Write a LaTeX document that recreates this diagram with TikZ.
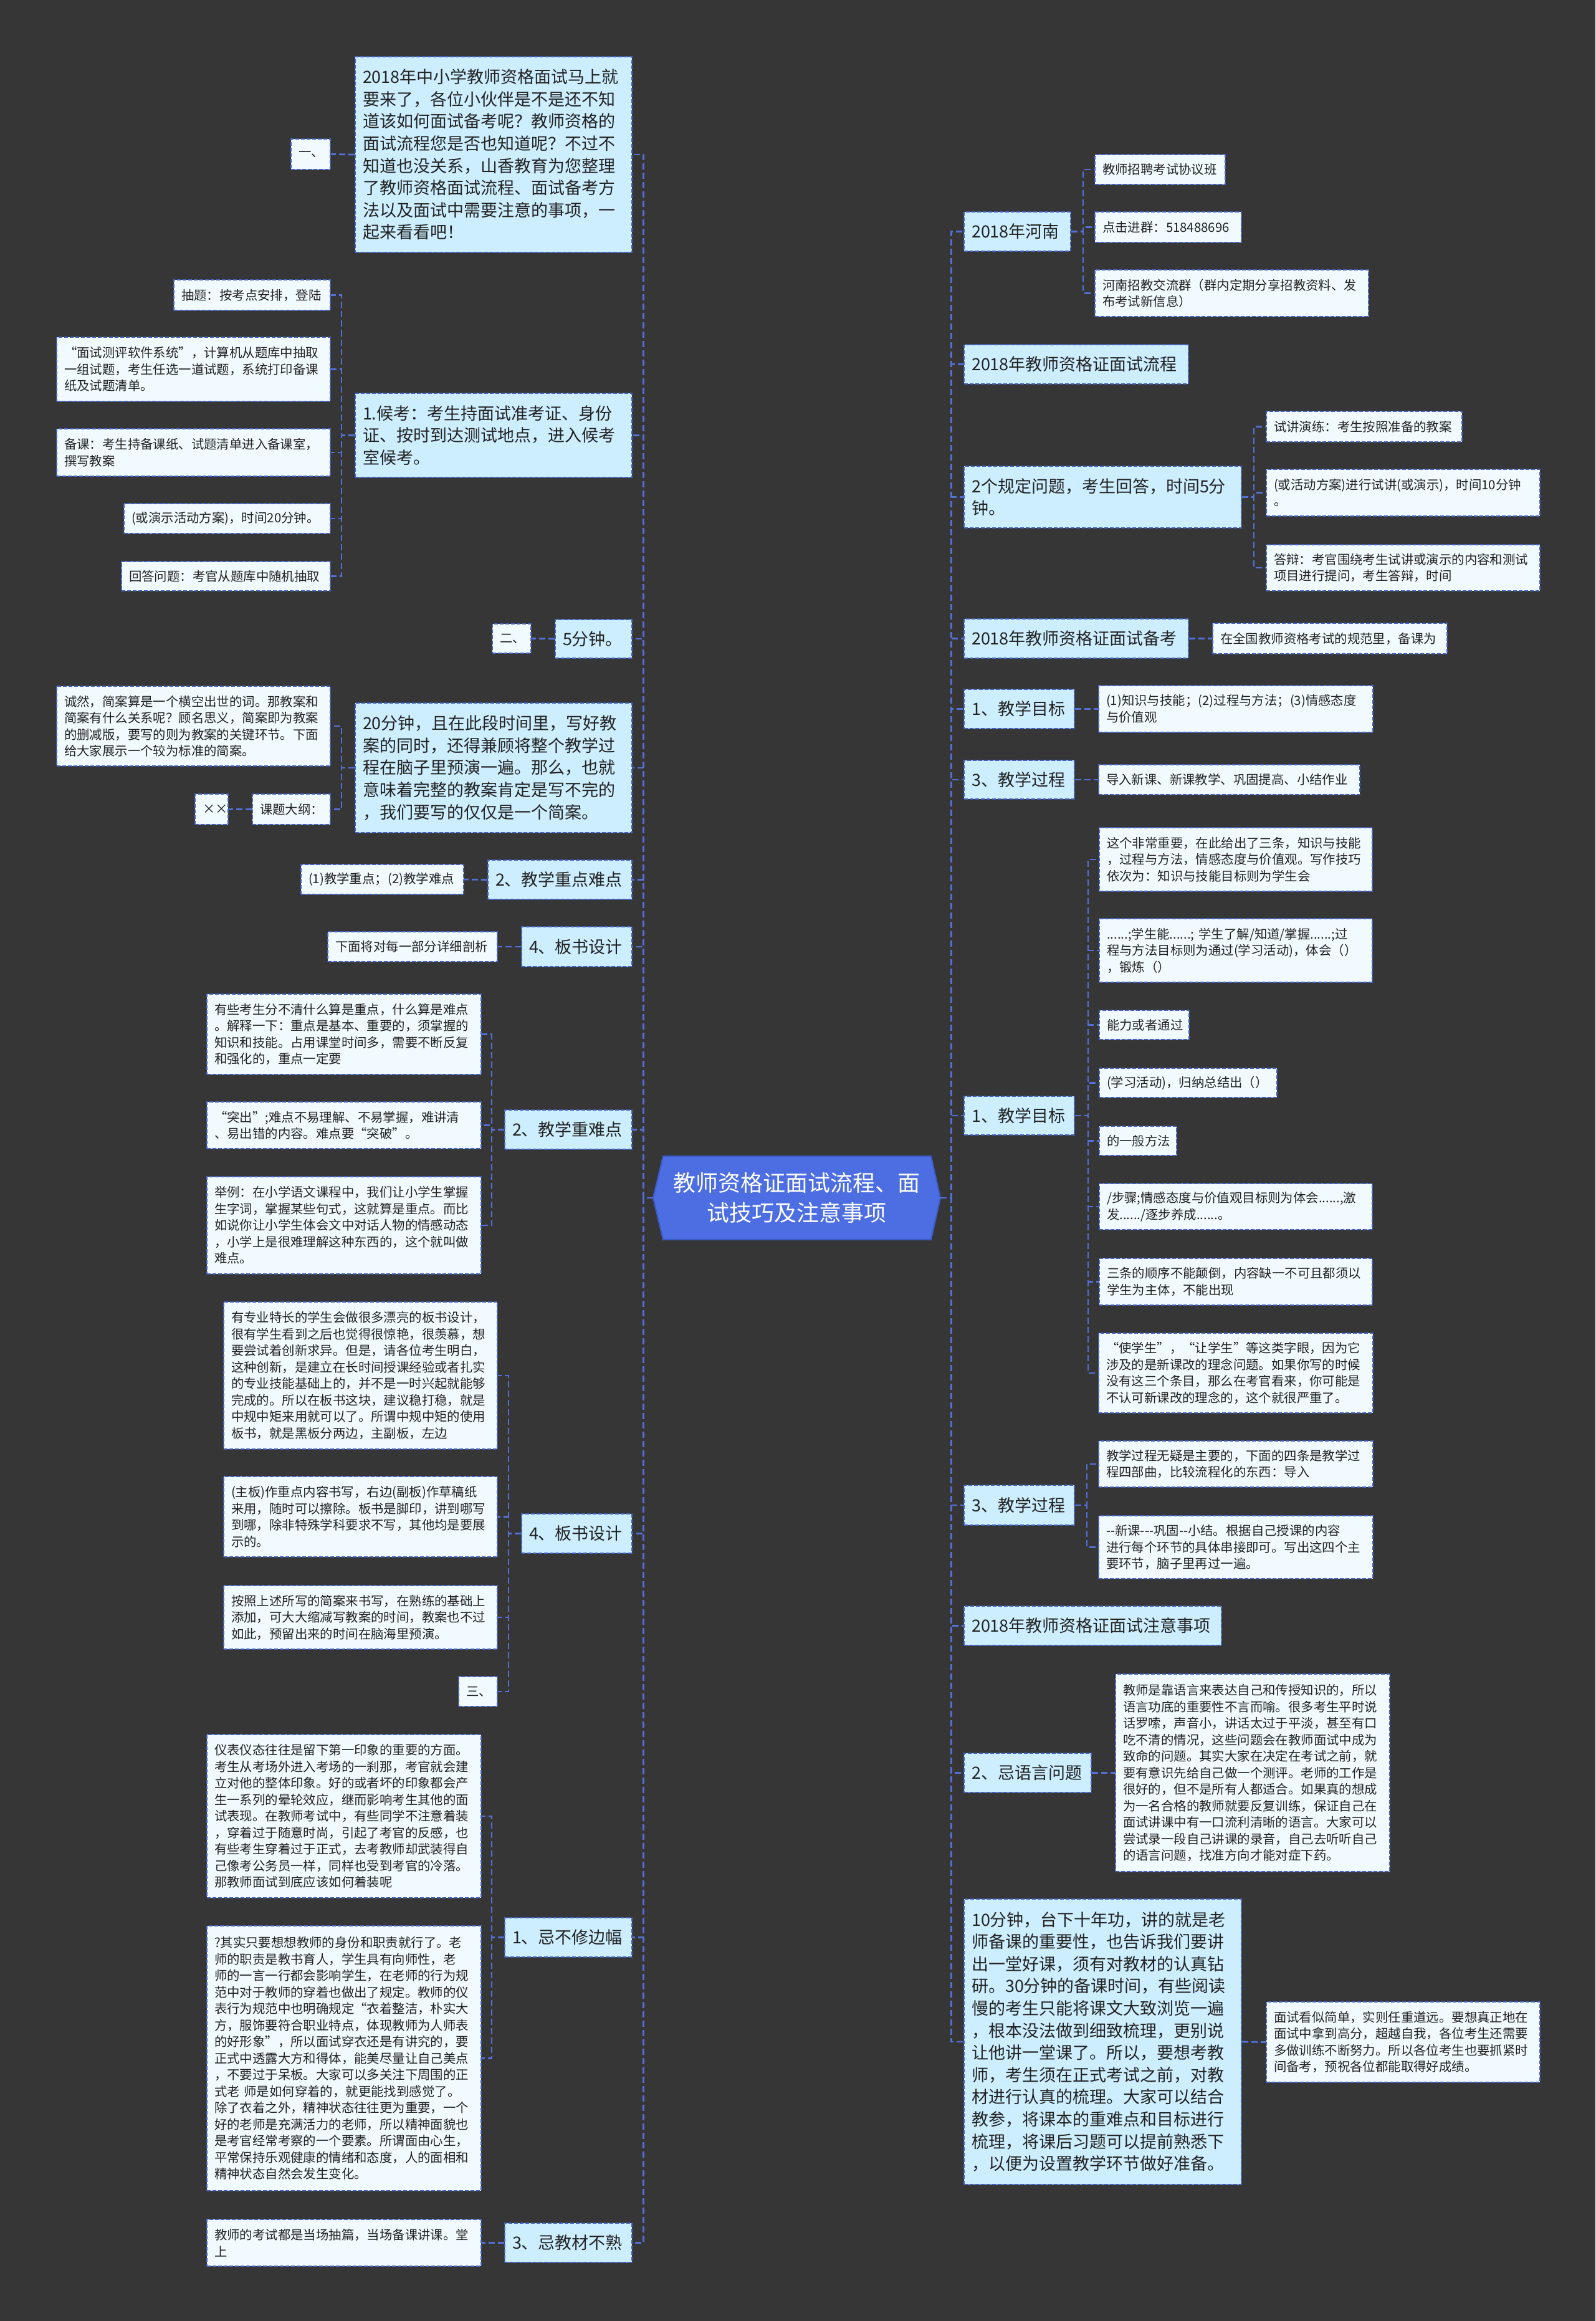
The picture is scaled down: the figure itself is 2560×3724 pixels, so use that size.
\documentclass[tikz,border=0pt]{standalone}
\usepackage{fontspec}
\setmainfont{Noto Sans CJK SC}
\definecolor{bgc}{RGB}{54,54,54}
\definecolor{lone}{RGB}{204,238,254}
\definecolor{ltwo}{RGB}{240,250,255}
\definecolor{bordc}{RGB}{68,98,196}
\definecolor{connc}{RGB}{84,112,214}
\definecolor{cfill}{RGB}{76,110,226}
\definecolor{cbord}{RGB}{60,90,200}
\definecolor{txtc}{RGB}{34,34,34}
\newcommand\hy{\mbox{-}}
\newcommand\mmbox[7]{%
  \pgfmathsetlengthmacro\mmw{#5*0.5pt}%
  \pgfmathsetlengthmacro\mmh{#6*0.5pt}%
  \pgfmathsetlengthmacro\mmt{#5*0.5pt-12pt}%
  \node[#1, anchor=north west, minimum width=\mmw, minimum height=\mmh, text width=\mmt] (#2) at (#3,#4) {#7};}
\tikzset{
  boxbase/.style={draw=bordc, line width=1pt, dash pattern=on 3pt off 1.5pt, text=txtc, align=left, inner xsep=5.5pt, inner ysep=1pt},
  lvone/.style={boxbase, fill=lone, font=\fontsize{13.5pt}{17.8pt}\selectfont},
  lvtwo/.style={boxbase, fill=ltwo, font=\fontsize{10.2pt}{13.25pt}\selectfont},
  conn/.style={draw=connc, line width=1.4pt, dash pattern=on 5pt off 2.5pt},
  centertext/.style={text=white, align=center, font=\fontsize{18pt}{24pt}\selectfont, text width=210pt, minimum width=230.5pt, minimum height=67pt, inner sep=0pt},
}
\begin{document}
\begin{tikzpicture}[x=0.5pt, y=-0.5pt]
\useasboundingbox (0,0) rectangle (2560,3724);
\fill[bgc] (0,0) rectangle (2560,3724);
% central topic
\filldraw[fill=cfill, draw=cbord, line width=1pt] (1064,1855) -- (1494,1855) -- (1509,1922) -- (1494,1989) -- (1064,1989) -- (1048,1922) -- cycle;
\node[centertext] (c) at (1278.5,1922) {教师资格证面试流程、面\\试技巧及注意事项};

% ---------------- LEFT ----------------
\mmbox{lvone}{L1}{569}{90}{444}{314}{2018年中小学教师资格面试马上就\\要来了，各位小伙伴是不是还不知\\道该如何面试备考呢？教师资格的\\面试流程您是否也知道呢？不过不\\知道也没关系，山香教育为您整理\\了教师资格面试流程、面试备考方\\法以及面试中需要注意的事项，一\\起来看看吧！}
\mmbox{lvtwo}{L1a}{466}{222}{63}{49}{一、}

\mmbox{lvone}{L2}{569}{630}{444}{135}{1.候考：考生持面试准考证、身份\\证、按时到达测试地点，进入候考\\室候考。}
\mmbox{lvtwo}{L2a}{278}{448}{251}{49}{抽题：按考点安排，登陆}
\mmbox{lvtwo}{L2b}{90}{540}{439}{103}{“面试测评软件系统”，计算机从题库中抽取\\一组试题，考生任选一道试题，系统打印备课\\纸及试题清单。}
\mmbox{lvtwo}{L2c}{90}{687}{439}{76}{备课：考生持备课纸、试题清单进入备课室，\\撰写教案}
\mmbox{lvtwo}{L2d}{198}{807}{331}{48}{(或演示活动方案)，时间20分钟。}
\mmbox{lvtwo}{L2e}{194}{900}{335}{47}{回答问题：考官从题库中随机抽取}

\mmbox{lvone}{L3}{890}{993}{123}{62}{5分钟。}
\mmbox{lvtwo}{L3a}{789}{1000}{62}{47}{二、}

\mmbox{lvone}{L4}{569}{1127}{444}{208}{20分钟，且在此段时间里，写好教\\案的同时，还得兼顾将整个教学过\\程在脑子里预演一遍。那么，也就\\意味着完整的教案肯定是写不完的\\，我们要写的仅仅是一个简案。}
\mmbox{lvtwo}{L4a}{90}{1100}{439}{128}{诚然，简案算是一个横空出世的词。那教案和\\简案有什么关系呢？顾名思义，简案即为教案\\的删减版，要写的则为教案的关键环节。下面\\给大家展示一个较为标准的简案。}
\mmbox{lvtwo}{L4b}{404}{1273}{125}{49}{课题大纲：}
\mmbox{lvtwo}{L4c}{312}{1273}{53}{49}{××}

\mmbox{lvone}{L5}{782}{1379}{231}{63}{2、教学重点难点}
\mmbox{lvtwo}{L5a}{482}{1386}{261}{48}{(1)教学重点；(2)教学难点}

\mmbox{lvone}{L6}{836}{1486}{177}{64}{4、板书设计}
\mmbox{lvtwo}{L6a}{525}{1494}{272}{48}{下面将对每一部分详细剖析}

\mmbox{lvone}{L7}{809}{1780}{204}{63}{2、教学重难点}
\mmbox{lvtwo}{L7a}{331}{1594}{440}{129}{有些考生分不清什么算是重点，什么算是难点\\。解释一下：重点是基本、重要的，须掌握的\\知识和技能。占用课堂时间多，需要不断反复\\和强化的，重点一定要}
\mmbox{lvtwo}{L7b}{331}{1767}{440}{75}{“突出”;难点不易理解、不易掌握，难讲清\\、易出错的内容。难点要“突破”。}
\mmbox{lvtwo}{L7c}{331}{1887}{440}{156}{举例：在小学语文课程中，我们让小学生掌握\\生字词，掌握某些句式，这就算是重点。而比\\如说你让小学生体会文中对话人物的情感动态\\，小学上是很难理解这种东西的，这个就叫做\\难点。}

\mmbox{lvone}{L8}{836}{2428}{177}{63}{4、板书设计}
\mmbox{lvtwo}{L8a}{358}{2088}{439}{236}{有专业特长的学生会做很多漂亮的板书设计，\\很有学生看到之后也觉得很惊艳，很羡慕，想\\要尝试着创新求异。但是，请各位考生明白，\\这种创新，是建立在长时间授课经验或者扎实\\的专业技能基础上的，并不是一时兴起就能够\\完成的。所以在板书这块，建议稳打稳，就是\\中规中矩来用就可以了。所谓中规中矩的使用\\板书，就是黑板分两边，主副板，左边}
\mmbox{lvtwo}{L8b}{358}{2368}{439}{129}{(主板)作重点内容书写，右边(副板)作草稿纸\\来用，随时可以擦除。板书是脚印，讲到哪写\\到哪，除非特殊学科要求不写，其他均是要展\\示的。}
\mmbox{lvtwo}{L8c}{358}{2543}{439}{102}{按照上述所写的简案来书写，在熟练的基础上\\添加，可大大缩减写教案的时间，教案也不过\\如此，预留出来的时间在脑海里预演。}
\mmbox{lvtwo}{L8d}{735}{2689}{62}{48}{三、}

\mmbox{lvone}{L9}{809}{3076}{204}{63}{1、忌不修边幅}
\mmbox{lvtwo}{L9a}{331}{2782}{440}{262}{仪表仪态往往是留下第一印象的重要的方面。\\考生从考场外进入考场的一刹那，考官就会建\\立对他的整体印象。好的或者坏的印象都会产\\生一系列的晕轮效应，继而影响考生其他的面\\试表现。在教师考试中，有些同学不注意着装\\，穿着过于随意时尚，引起了考官的反感，也\\有些考生穿着过于正式，去考教师却武装得自\\己像考公务员一样，同样也受到考官的冷落。\\那教师面试到底应该如何着装呢}
\mmbox{lvtwo}{L9b}{331}{3089}{440}{425}{?其实只要想想教师的身份和职责就行了。老\\师的职责是教书育人，学生具有向师性，老\\师的一言一行都会影响学生，在老师的行为规\\范中对于教师的穿着也做出了规定。教师的仪\\表行为规范中也明确规定“衣着整洁，朴实大\\方，服饰要符合职业特点，体现教师为人师表\\的好形象”，所以面试穿衣还是有讲究的，要\\正式中透露大方和得体，能美尽量让自己美点\\，不要过于呆板。大家可以多关注下周围的正\\式老 师是如何穿着的，就更能找到感觉了。\\除了衣着之外，精神状态往往更为重要，一个\\好的老师是充满活力的老师，所以精神面貌也\\是考官经常考察的一个要素。所谓面由心生，\\平常保持乐观健康的情绪和态度，人的面相和\\精神状态自然会发生变化。}

\mmbox{lvone}{L10}{809}{3566}{204}{63}{3、忌教材不熟}
\mmbox{lvtwo}{L10a}{331}{3560}{440}{75}{教师的考试都是当场抽篇，当场备课讲课。堂\\上}

% ---------------- RIGHT ----------------
\mmbox{lvone}{R1}{1546}{339}{171}{63}{2018年河南}
\mmbox{lvtwo}{R1a}{1756}{247}{209}{48}{教师招聘考试协议班}
\mmbox{lvtwo}{R1b}{1756}{339}{235}{49}{点击进群：518488696}
\mmbox{lvtwo}{R1c}{1756}{432}{439}{75}{河南招教交流群（群内定期分享招教资料、发\\布考试新信息）}

\mmbox{lvone}{R2}{1546}{552}{360}{63}{2018年教师资格证面试流程}

\mmbox{lvone}{R3}{1546}{747}{445}{99}{2个规定问题，考生回答，时间5分\\钟。}
\mmbox{lvtwo}{R3a}{2031}{659}{314}{49}{试讲演练：考生按照准备的教案}
\mmbox{lvtwo}{R3b}{2031}{752}{439}{75}{(或活动方案)进行试讲(或演示)，时间10分钟\\。}
\mmbox{lvtwo}{R3c}{2031}{873}{439}{74}{答辩：考官围绕考生试讲或演示的内容和测试\\项目进行提问，考生答辩，时间}

\mmbox{lvone}{R4}{1546}{992}{360}{63}{2018年教师资格证面试备考}
\mmbox{lvtwo}{R4a}{1945}{999}{376}{49}{在全国教师资格考试的规范里，备课为}

\mmbox{lvone}{R5}{1546}{1105}{177}{63}{1、教学目标}
\mmbox{lvtwo}{R5a}{1762}{1099}{440}{75}{(1)知识与技能；(2)过程与方法；(3)情感态度\\与价值观}

\mmbox{lvone}{R6}{1546}{1219}{177}{62}{3、教学过程}
\mmbox{lvtwo}{R6a}{1762}{1226}{419}{48}{导入新课、新课教学、巩固提高、小结作业}

\mmbox{lvone}{R7}{1546}{1758}{177}{62}{1、教学目标}
\mmbox{lvtwo}{R7a}{1763}{1327}{438}{102}{这个非常重要，在此给出了三条，知识与技能\\，过程与方法，情感态度与价值观。写作技巧\\依次为：知识与技能目标则为学生会}
\mmbox{lvtwo}{R7b}{1763}{1473}{438}{102}{......;学生能......; 学生了解/知道/掌握......;过\\程与方法目标则为通过(学习活动)，体会（）\\，锻炼（）}
\mmbox{lvtwo}{R7c}{1763}{1620}{144}{47}{能力或者通过}
\mmbox{lvtwo}{R7d}{1763}{1713}{285}{47}{(学习活动)，归纳总结出（）}
\mmbox{lvtwo}{R7e}{1763}{1806}{124}{47}{的一般方法}
\mmbox{lvtwo}{R7f}{1763}{1898}{438}{74}{/步骤;情感态度与价值观目标则为体会......,激\\发....../逐步养成......。}
\mmbox{lvtwo}{R7g}{1763}{2018}{438}{75}{三条的顺序不能颠倒，内容缺一不可且都须以\\学生为主体，不能出现}
\mmbox{lvtwo}{R7h}{1762}{2138}{440}{128}{“使学生”，“让学生”等这类字眼，因为它\\涉及的是新课改的理念问题。如果你写的时候\\没有这三个条目，那么在考官看来，你可能是\\不认可新课改的理念的，这个就很严重了。}

\mmbox{lvone}{R8}{1546}{2382}{177}{64}{3、教学过程}
\mmbox{lvtwo}{R8a}{1762}{2311}{440}{74}{教学过程无疑是主要的，下面的四条是教学过\\程四部曲，比较流程化的东西：导入}
\mmbox{lvtwo}{R8b}{1762}{2431}{440}{101}{\hy\hy 新课\hy\hy\hy 巩固\hy\hy 小结。根据自己授课的内容\\进行每个环节的具体串接即可。写出这四个主\\要环节，脑子里再过一遍。}

\mmbox{lvone}{R9}{1546}{2576}{413}{63}{2018年教师资格证面试注意事项}

\mmbox{lvone}{R10}{1546}{2812}{204}{63}{2、忌语言问题}
\mmbox{lvtwo}{R10a}{1789}{2685}{440}{317}{教师是靠语言来表达自己和传授知识的，所以\\语言功底的重要性不言而喻。很多考生平时说\\话罗嗦，声音小，讲话太过于平淡，甚至有口\\吃不清的情况，这些问题会在教师面试中成为\\致命的问题。其实大家在决定在考试之前，就\\要有意识先给自己做一个测评。老师的工作是\\很好的，但不是所有人都适合。如果真的想成\\为一名合格的教师就要反复训练，保证自己在\\面试讲课中有一口流利清晰的语言。大家可以\\尝试录一段自己讲课的录音，自己去听听自己\\的语言问题，找准方向才能对症下药。}

\mmbox{lvone}{R11}{1546}{3046}{445}{458}{10分钟，台下十年功，讲的就是老\\师备课的重要性，也告诉我们要讲\\出一堂好课，须有对教材的认真钻\\研。30分钟的备课时间，有些阅读\\慢的考生只能将课文大致浏览一遍\\，根本没法做到细致梳理，更别说\\让他讲一堂课了。所以，要想考教\\师，考生须在正式考试之前，对教\\材进行认真的梳理。大家可以结合\\教参，将课本的重难点和目标进行\\梳理，将课后习题可以提前熟悉下\\，以便为设置教学环节做好准备。}
\mmbox{lvtwo}{R11a}{2031}{3211}{439}{129}{面试看似简单，实则任重道远。要想真正地在\\面试中拿到高分，超越自我，各位考生还需要\\多做训练不断努力。所以各位考生也要抓紧时\\间备考，预祝各位都能取得好成绩。}

% ---------------- CONNECTORS ----------------
\foreach \n in {L1,L2,L3,L4,L5,L6,L7,L8,L9,L10}
  \draw[conn] (c.west) -- ++(-15,0) |- (\n.east);
\foreach \n in {R1,R2,R3,R4,R5,R6,R7,R8,R9,R10,R11}
  \draw[conn] (c.east) -- ++(17,0) |- (\n.west);

\draw[conn] (L1.west) -- (L1a.east);
\foreach \n in {L2a,L2b,L2c,L2d,L2e}
  \draw[conn] (L2.west) -- ++(-21,0) |- (\n.east);
\draw[conn] (L3.west) -- (L3a.east);
\foreach \n in {L4a,L4b}
  \draw[conn] (L4.west) -- ++(-21,0) |- (\n.east);
\draw[conn] (L4b.west) -- (L4c.east);
\draw[conn] (L5.west) -- (L5a.east);
\draw[conn] (L6.west) -- (L6a.east);
\foreach \n in {L7a,L7b,L7c}
  \draw[conn] (L7.west) -- ++(-20,0) |- (\n.east);
\foreach \n in {L8a,L8b,L8c,L8d}
  \draw[conn] (L8.west) -- ++(-20,0) |- (\n.east);
\foreach \n in {L9a,L9b}
  \draw[conn] (L9.west) -- ++(-20,0) |- (\n.east);
\draw[conn] (L10.west) -- (L10a.east);

\foreach \n in {R1a,R1b,R1c}
  \draw[conn] (R1.east) -- ++(19,0) |- (\n.west);
\foreach \n in {R3a,R3b,R3c}
  \draw[conn] (R3.east) -- ++(19,0) |- (\n.west);
\draw[conn] (R4.east) -- (R4a.west);
\draw[conn] (R5.east) -- (R5a.west);
\draw[conn] (R6.east) -- (R6a.west);
\foreach \n in {R7a,R7b,R7c,R7d,R7e,R7f,R7g,R7h}
  \draw[conn] (R7.east) -- ++(21,0) |- (\n.west);
\foreach \n in {R8a,R8b}
  \draw[conn] (R8.east) -- ++(19,0) |- (\n.west);
\draw[conn] (R10.east) -- (R10a.west);
\draw[conn] (R11.east) -- (R11a.west);
\end{tikzpicture}
\end{document}
